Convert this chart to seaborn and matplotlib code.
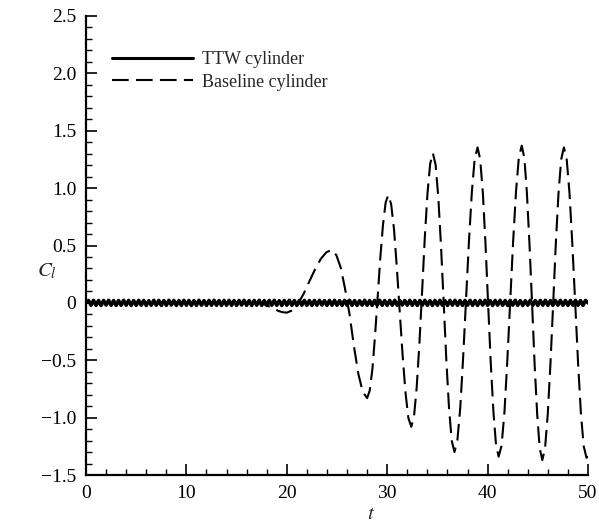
import numpy as np
import pandas as pd
import matplotlib
matplotlib.use("Agg")
import matplotlib.pyplot as plt
from matplotlib.ticker import MultipleLocator, FixedLocator, FixedFormatter
import seaborn as sns

# ---------------- data ----------------
series_names = ["TTW cylinder", "Baseline cylinder"]

# TTW cylinder: small high-frequency oscillation about zero, sampled every 0.25
ttw_dt = 0.25
ttw_cl = [
    0.000, 0.021, -0.020, 0.022, -0.021, 0.020, -0.022, 0.021, -0.019, 0.022,
    -0.021, 0.020, -0.022, 0.020, -0.021, 0.022, -0.020, 0.021, -0.022, 0.020,
    -0.021, 0.022, -0.020, 0.021, -0.022, 0.019, -0.021, 0.022, -0.020, 0.021,
    -0.022, 0.020, -0.021, 0.022, -0.019, 0.021, -0.022, 0.020, -0.021, 0.022,
    -0.020, 0.021, -0.022, 0.020, -0.021, 0.022, -0.020, 0.019, -0.022, 0.021,
    -0.020, 0.022, -0.021, 0.020, -0.022, 0.021, -0.020, 0.022, -0.021, 0.020,
    -0.022, 0.021, -0.019, 0.022, -0.021, 0.020, -0.022, 0.021, -0.020, 0.022,
    -0.021, 0.020, -0.022, 0.021, -0.020, 0.022, -0.021, 0.019, -0.022, 0.021,
    -0.020, 0.022, -0.021, 0.020, -0.022, 0.021, -0.020, 0.022, -0.021, 0.020,
    -0.022, 0.021, -0.020, 0.022, -0.019, 0.020, -0.022, 0.021, -0.020, 0.022,
    -0.021, 0.020, -0.022, 0.021, -0.020, 0.022, -0.021, 0.020, -0.022, 0.019,
    -0.020, 0.022, -0.021, 0.020, -0.022, 0.021, -0.020, 0.022, -0.021, 0.020,
    -0.022, 0.021, -0.020, 0.022, -0.021, 0.020, -0.019, 0.021, -0.020, 0.022,
    -0.021, 0.020, -0.022, 0.021, -0.020, 0.022, -0.021, 0.020, -0.022, 0.021,
    -0.020, 0.022, -0.021, 0.019, -0.022, 0.021, -0.020, 0.022, -0.021, 0.020,
    -0.022, 0.021, -0.020, 0.022, -0.021, 0.020, -0.022, 0.021, -0.019, 0.022,
    -0.021, 0.020, -0.022, 0.021, -0.020, 0.022, -0.021, 0.020, -0.022, 0.021,
    -0.020, 0.022, -0.021, 0.020, -0.022, 0.019, -0.020, 0.022, -0.021, 0.020,
    -0.022, 0.021, -0.020, 0.022, -0.021, 0.020, -0.022, 0.021, -0.020, 0.022,
    -0.021, 0.020, -0.022, 0.021, -0.020, 0.022, -0.021, 0.020, -0.022, 0.021,
    0.000,
]
ttw_t = np.arange(len(ttw_cl)) * ttw_dt

# Baseline cylinder: quiet until t~17, then a growing vortex-shedding oscillation
base_t = [
    0.0, 17.0, 17.38, 17.75, 18.13, 18.5, 18.88, 19.25, 19.63, 20.0,
    20.56, 21.13, 21.69, 22.25, 22.81, 23.38, 23.94, 24.5,
    24.94, 25.38, 25.81, 26.25, 26.69, 27.13, 27.56, 28.0,
    28.26, 28.53, 28.79, 29.05, 29.31, 29.58, 29.84, 30.1,
    30.39, 30.68, 30.96, 31.25, 31.54, 31.83, 32.11, 32.4,
    32.67, 32.94, 33.21, 33.48, 33.74, 34.01, 34.28, 34.55,
    34.82, 35.09, 35.36, 35.63, 35.89, 36.16, 36.43, 36.7,
    36.99, 37.28, 37.56, 37.85, 38.14, 38.43, 38.71, 39.0,
    39.26, 39.53, 39.79, 40.05, 40.31, 40.58, 40.84, 41.1,
    41.39, 41.68, 41.96, 42.25, 42.54, 42.83, 43.11, 43.4,
    43.66, 43.91, 44.17, 44.43, 44.68, 44.94, 45.19, 45.45,
    45.72, 45.99, 46.26, 46.53, 46.79, 47.06, 47.33, 47.6,
    47.88, 48.16, 48.44, 48.73, 49.01, 49.29, 49.57, 49.85, 50.0,
]
base_cl = [
    0.0, 0.0, -0.003, -0.012, -0.026, -0.043, -0.059, -0.073, -0.082, -0.085,
    -0.065, -0.007, 0.082, 0.188, 0.292, 0.382, 0.441, 0.462,
    0.415, 0.305, 0.120, -0.100, -0.380, -0.620, -0.775, -0.830,
    -0.764, -0.574, -0.285, 0.050, 0.390, 0.680, 0.872, 0.940,
    0.862, 0.640, 0.308, -0.080, -0.463, -0.787, -1.004, -1.080,
    -0.990, -0.734, -0.350, 0.105, 0.562, 0.952, 1.212, 1.305,
    1.205, 0.920, 0.495, -0.005, -0.500, -0.920, -1.202, -1.300,
    -1.198, -0.911, -0.482, 0.025, 0.532, 0.963, 1.252, 1.355,
    1.252, 0.956, 0.515, -0.005, -0.516, -0.949, -1.239, -1.340,
    -1.245, -0.950, -0.510, 0.010, 0.530, 0.970, 1.266, 1.370,
    1.264, 0.965, 0.515, -0.008, -0.530, -0.972, -1.268, -1.370,
    -1.268, -0.972, -0.530, -0.010, 0.510, 0.953, 1.250, 1.355,
    1.250, 0.953, 0.510, -0.010, -0.523, -0.957, -1.248, -1.350, -1.340,
]

x_ticks = [0, 10, 20, 30, 40, 50]
x_tick_labels = ["0", "10", "20", "30", "40", "50"]
y_ticks = [-1.5, -1.0, -0.5, 0.0, 0.5, 1.0, 1.5, 2.0, 2.5]
y_tick_labels = ["\u22121.5", "\u22121.0", "\u22120.5", "0", "0.5", "1.0", "1.5", "2.0", "2.5"]

# ---------------- style ----------------
sns.set_theme(style="ticks")
plt.rcParams["font.family"] = ["Liberation Serif", "DejaVu Serif"]
plt.rcParams["mathtext.fontset"] = "stix"

df_ttw = pd.DataFrame({"t": ttw_t, "cl": ttw_cl})
df_base = pd.DataFrame({"t": base_t, "cl": base_cl})

fig = plt.figure(figsize=(5.99, 5.26), dpi=100)
left, right, top, bottom = 86 / 599, 588 / 599, 1 - 16 / 526, 1 - 475 / 526
ax = fig.add_axes([left, bottom, right - left, top - bottom])

sns.lineplot(data=df_base, x="t", y="cl", ax=ax, color="black", linewidth=1.5,
             linestyle=(0, (8, 3.5)), estimator=None, sort=False,
             label=series_names[1], zorder=2)
sns.lineplot(data=df_ttw, x="t", y="cl", ax=ax, color="black", linewidth=2.6,
             estimator=None, sort=False, label=series_names[0], zorder=3)

ax.set_xlim(0, 50)
ax.set_ylim(-1.5, 2.5)

ax.xaxis.set_major_locator(FixedLocator(x_ticks))
ax.xaxis.set_major_formatter(FixedFormatter(x_tick_labels))
ax.yaxis.set_major_locator(FixedLocator(y_ticks))
ax.yaxis.set_major_formatter(FixedFormatter(y_tick_labels))
ax.xaxis.set_minor_locator(MultipleLocator(2))
ax.yaxis.set_minor_locator(MultipleLocator(0.1))

ax.tick_params(axis="both", which="major", direction="in", length=8, width=1.2,
               labelsize=14, pad=7, colors="black")
ax.tick_params(axis="both", which="minor", direction="in", length=4.5, width=1.0,
               colors="black")
ax.tick_params(top=False, right=False, which="both")

for s in ["top", "right"]:
    ax.spines[s].set_visible(False)
for s in ["left", "bottom"]:
    ax.spines[s].set_linewidth(1.6)
    ax.spines[s].set_color("black")

ax.set_xlabel(r"$t$", fontsize=15)
ax.set_ylabel(r"$C_l$", fontsize=15, rotation=0)
ax.xaxis.set_label_coords(0.568, -0.086)
ax.yaxis.set_label_coords(-0.077, 0.444)
ax.yaxis.label.set_va("center")
ax.yaxis.label.set_ha("center")
ax.xaxis.label.set_va("center")

handles, labels = ax.get_legend_handles_labels()
order = [labels.index(series_names[0]), labels.index(series_names[1])]
leg = ax.legend([handles[i] for i in order], [labels[i] for i in order],
                loc="upper left", bbox_to_anchor=(0.052, 0.924), frameon=False,
                fontsize=13, handlelength=4.5, handletextpad=0.5, labelspacing=0.32,
                borderpad=0, borderaxespad=0)
leg.get_lines()[0].set_linewidth(2.2)

fig.savefig("out.png", dpi=100)
